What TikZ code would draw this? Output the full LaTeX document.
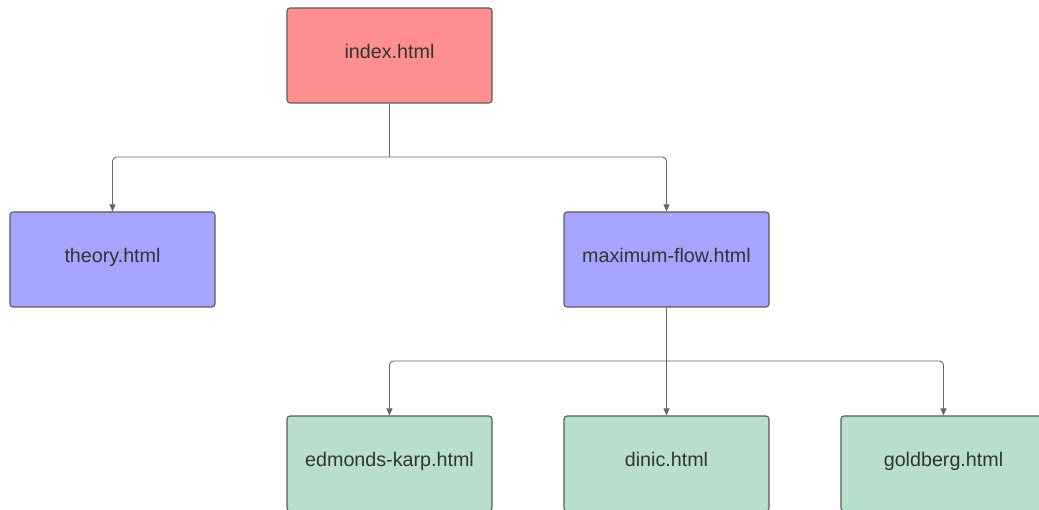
\documentclass[tikz,border=0pt]{standalone}
\usepackage{fontspec}
\setmainfont{Liberation Sans}
\usetikzlibrary{arrows.meta}
\definecolor{boxred}{HTML}{FF8F8F}
\definecolor{boxblue}{HTML}{A5A5FF}
\definecolor{boxgreen}{HTML}{B8DFCC}
\definecolor{edge}{HTML}{5A5A5A}
\definecolor{conncol}{HTML}{666666}
\definecolor{txt}{HTML}{333333}
\tikzset{
  page/.style={minimum width=205pt, minimum height=95pt, rounded corners=3pt,
    draw=edge, line width=1.1pt, text=txt, inner sep=0pt,
    text height=14pt, text depth=8pt,
    font=\fontsize{19.7}{22}\selectfont},
  redbox/.style={page, fill=boxred},
  bluebox/.style={page, fill=boxblue},
  greenbox/.style={page, fill=boxgreen},
  conn/.style={draw=conncol, line width=0.9pt, rounded corners=4pt,
    -{Triangle[length=7pt,width=6pt]}},
  plain/.style={draw=conncol, line width=0.9pt}
}
\begin{document}
\begin{tikzpicture}[x=1pt,y=-1pt]
\useasboundingbox (0,0) rectangle (1039,510);
\clip (0,0) rectangle (1039,510);
\node[redbox] (index) at (389.5,55.5) {index.html};
\node[bluebox] (theory) at (112.5,259.5) {theory.html};
\node[bluebox] (maxflow) at (666.5,259.5) {maximum-flow.html};
\node[greenbox] (edmonds) at (389.5,463.5) {edmonds-karp.html};
\node[greenbox] (dinic) at (666.5,463.5) {dinic.html};
\node[greenbox] (goldberg) at (943.5,463.5) {goldberg.html};
\coordinate (j1) at (389.5,157);
\coordinate (j2) at (666.5,361);
\draw[plain] (index.south) -- (j1);
\draw[conn] (j1) -| (theory.north);
\draw[conn] (j1) -| (maxflow.north);
\draw[conn] (maxflow.south) -- (dinic.north);
\draw[conn] (j2) -| (edmonds.north);
\draw[conn] (j2) -| (goldberg.north);
\end{tikzpicture}
\end{document}
